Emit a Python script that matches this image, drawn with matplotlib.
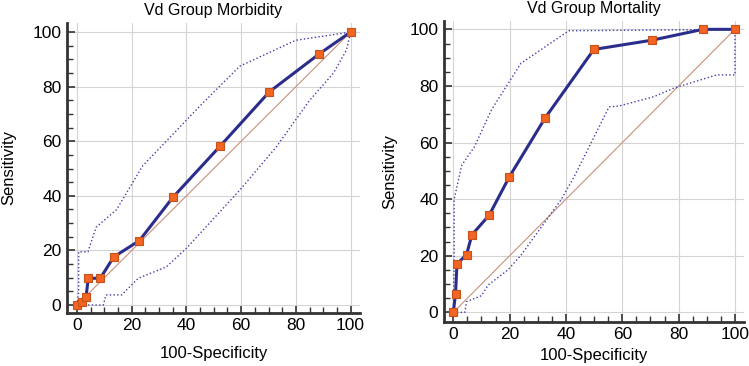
import numpy as np
import matplotlib
matplotlib.use("Agg")
import matplotlib.pyplot as plt
from matplotlib.ticker import MultipleLocator

# Vd group morbidity - ROC points
morb_fpr = [0, 1.8, 3.3, 4.1, 8.5, 13.4, 22.8, 35.0, 52.3, 70.3, 88.4, 100]
morb_sens = [0, 1.1, 2.9, 9.8, 9.8, 17.6, 23.6, 39.4, 58.2, 78.1, 91.9, 100]
morb_up_x = [0, 0.6, 0.6, 4.0, 7.0, 14.5, 24.0, 35.0, 45.0, 59.5, 80.0, 100]
morb_up_y = [0, 5.0, 19.5, 19.5, 28.5, 35.0, 51.0, 62.5, 73.0, 87.5, 97.0, 100]
morb_lo_x = [0, 9.6, 10.6, 16.3, 22.4, 32.7, 40.0, 59.5, 72.9, 85.1, 93.7, 98.5, 100]
morb_lo_y = [0, 0, 3.7, 3.7, 9.8, 14.0, 20.8, 42.1, 58.0, 75.1, 84.9, 93.4, 100]

# Vd group mortality - ROC points
mort_fpr = [0, 0.8, 1.3, 4.7, 6.6, 12.7, 19.9, 32.6, 49.9, 70.7, 88.6, 100]
mort_sens = [0, 6.6, 17.1, 20.4, 27.4, 34.3, 47.9, 68.7, 92.9, 96.2, 100, 100]
mort_up_x = [0, 0.3, 0.3, 3.0, 7.5, 13.5, 24.0, 41.0, 100]
mort_up_y = [0, 18.0, 40.0, 52.0, 58.5, 71.5, 88.0, 99.5, 100]
mort_lo_x = [0, 4.1, 4.7, 10.0, 12.4, 19.4, 24.1, 38.2, 42.9, 55.3, 58.8, 71.2, 78.2, 93.5, 100, 100]
mort_lo_y = [0, 0, 3.8, 5.9, 9.7, 15.0, 20.3, 39.7, 47.9, 72.6, 72.9, 76.2, 79.2, 83.9, 83.9, 100]

plt.rcParams['font.family'] = ['Liberation Sans', 'DejaVu Sans']

fig = plt.figure(figsize=(7.49, 3.66), dpi=100)
ax1 = fig.add_axes([0.0895, 0.145, 0.391, 0.792])
ax2 = fig.add_axes([0.5928, 0.121, 0.4005, 0.822])


def roc_panel(ax, title, fx, fy, ux, uy, lx, ly, xlim, ylim, xpad, ypad):
    ax.plot([0, 100], [0, 100], color='#c9907a', lw=0.8, zorder=2)
    ax.plot(ux, uy, ls=':', color='#3f3fa8', lw=1.0, zorder=3)
    ax.plot(lx, ly, ls=':', color='#3f3fa8', lw=1.0, zorder=3)
    ax.plot(fx, fy, color='#2b2d8c', lw=2.2, marker='s', ms=6,
            mfc='#f26522', mec='#c8501c', mew=0.8, zorder=4)
    ax.set_xlim(*xlim)
    ax.set_ylim(*ylim)
    ax.xaxis.set_major_locator(MultipleLocator(20))
    ax.yaxis.set_major_locator(MultipleLocator(20))
    ax.xaxis.set_minor_locator(MultipleLocator(5))
    ax.yaxis.set_minor_locator(MultipleLocator(5))
    ax.grid(True, which='major', color='#d4d4d4', lw=0.8)
    ax.set_axisbelow(True)
    for s in ['top', 'right']:
        ax.spines[s].set_visible(False)
    for s in ['left', 'bottom']:
        ax.spines[s].set_linewidth(2)
        ax.spines[s].set_color('#333333')
    ax.tick_params(which='major', direction='in', length=6, width=1.2,
                   color='#333333', labelsize=12.5, pad=4)
    ax.tick_params(which='minor', direction='in', length=4, width=1.0,
                   color='#333333')
    ax.set_xlabel('100-Specificity', fontsize=12, labelpad=xpad)
    ax.set_ylabel('Sensitivity', fontsize=12, labelpad=ypad)
    ax.set_title(title, fontsize=11.5, pad=6)


roc_panel(ax1, 'Vd Group Morbidity', morb_fpr, morb_sens,
          morb_up_x, morb_up_y, morb_lo_x, morb_lo_y,
          (-3.65, 103.4), (-2.9, 103.3), 9, 12)
roc_panel(ax2, 'Vd Group Mortality', mort_fpr, mort_sens,
          mort_up_x, mort_up_y, mort_lo_x, mort_lo_y,
          (-3.3, 103.2), (-3.3, 103.0), 4, 9)

fig.savefig('out.png', dpi=100)
